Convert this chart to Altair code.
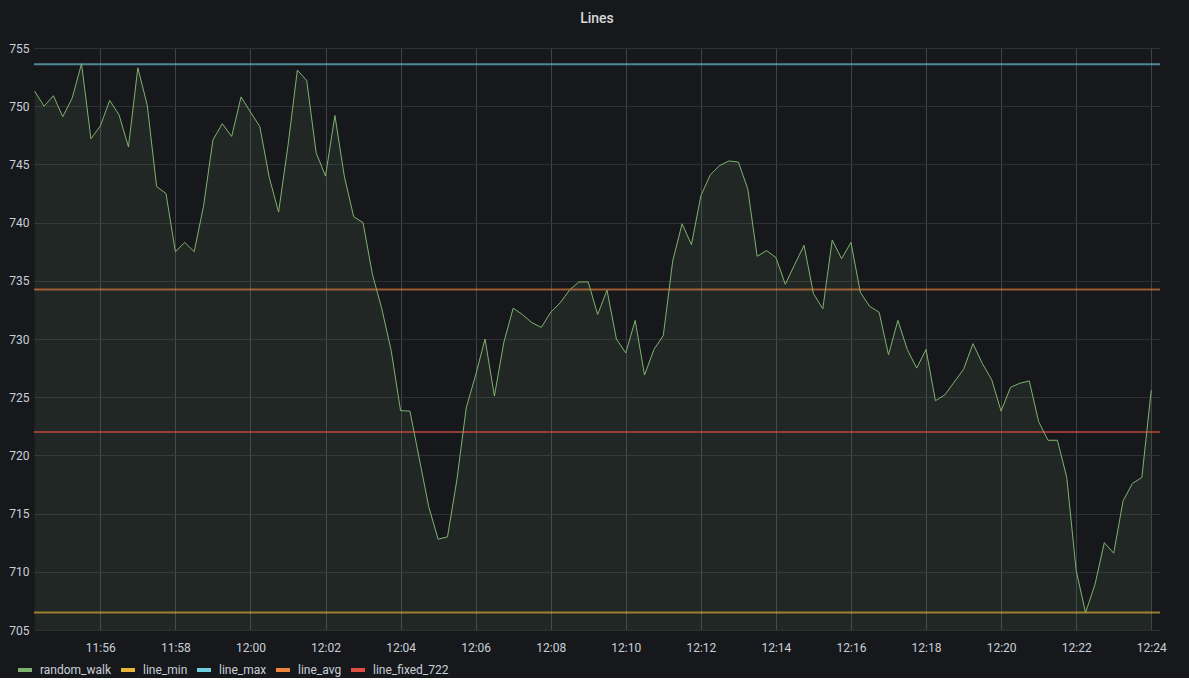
import altair as alt
import pandas as pd

# ---- data ----
start_time = "2024-01-01T11:54:15"   # first sample, 15 s step
step_seconds = 15
random_walk = [
    751.3, 750.0, 750.9, 749.1, 750.7, 753.65, 747.2, 748.3, 750.5, 749.25,
    746.5, 753.3, 750.1, 743.1, 742.5, 737.5, 738.3, 737.5, 741.4, 747.1,
    748.5, 747.4, 750.8, 749.5, 748.25, 743.9, 740.9, 746.6, 753.1, 752.2,
    746.0, 744.0, 749.2, 744.0, 740.5, 740.0, 735.55, 732.6, 729.0, 723.85,
    723.8, 719.7, 715.6, 712.8, 713.0, 717.9, 724.1, 726.9, 730.0, 725.1,
    729.7, 732.65, 732.1, 731.4, 731.0, 732.3, 733.1, 734.2, 734.9, 734.9,
    732.1, 734.2, 730.0, 728.8, 731.6, 726.9, 729.1, 730.3, 736.7, 739.9,
    738.1, 742.3, 744.1, 744.9, 745.3, 745.2, 742.9, 737.1, 737.6, 737.0,
    734.7, 736.4, 738.05, 733.9, 732.6, 738.5, 736.9, 738.3, 734.0, 732.8,
    732.3, 728.65, 731.6, 729.1, 727.5, 729.1, 724.7, 725.2, 726.3, 727.4,
    729.6, 727.9, 726.5, 723.8, 725.85, 726.2, 726.4, 722.9, 721.3, 721.3,
    718.1, 710.1, 706.5, 708.9, 712.5, 711.6, 716.1, 717.6, 718.1, 725.6,
]
const_names = ["line_min", "line_max", "line_avg", "line_fixed_722"]
const_values = [706.5, 753.6, 734.25, 722.0]
series_names = ["random_walk", "line_min", "line_max", "line_avg", "line_fixed_722"]
series_colors = ["#7EB26D", "#EAB839", "#6ED0E0", "#EF843C", "#E24D42"]
range_start = (11, 54, 14)
range_end = (12, 24, 14)
x_tick_labels = ["11:56", "11:58", "12:00", "12:02", "12:04", "12:06", "12:08", "12:10",
                 "12:12", "12:14", "12:16", "12:18", "12:20", "12:22", "12:24"]
y_ticks = [705, 710, 715, 720, 725, 730, 735, 740, 745, 750, 755]


def dt(h, m, s=0):
    return alt.DateTime(year=2024, month=1, date=1, hours=h, minutes=m, seconds=s)


def iso(h, m, s=0):
    return f"2024-01-01T{h:02d}:{m:02d}:{s:02d}"


# ---- tables ----
times = pd.date_range(start_time, periods=len(random_walk), freq=f"{step_seconds}s")
rw = pd.DataFrame({
    "time": times.strftime("%Y-%m-%dT%H:%M:%S"),
    "value": random_walk,
    "series": "random_walk",
})
const_rows = []
for n, v in zip(const_names, const_values):
    const_rows.append({"time": iso(*range_start), "value": v, "series": n})
    const_rows.append({"time": iso(*range_end), "value": v, "series": n})
consts = pd.DataFrame(const_rows)

tick_values = [dt(int(t[:2]), int(t[3:])) for t in x_tick_labels]

W, H = 1126, 582

x_scale = alt.Scale(domain=[dt(*range_start), dt(*range_end)])
y_scale = alt.Scale(domain=[705, 755], zero=False, nice=False)
color_scale = alt.Scale(domain=series_names, range=series_colors)

x_axis = alt.Axis(format="%H:%M", values=tick_values, title=None,
                  grid=True, gridColor="#3f4247", gridWidth=1, ticks=False, domain=False,
                  labelColor="#c7d0d9", labelFont="Roboto", labelFontSize=12, labelPadding=12)
y_axis = alt.Axis(values=y_ticks, title=None, grid=True, gridColor="#2e3034", gridWidth=1,
                  ticks=False, domain=False, labelColor="#c7d0d9", labelFont="Roboto",
                  labelFontSize=12, labelPadding=5)

area = alt.Chart(rw).mark_area(color="#7EB26D", opacity=0.1, clip=True).encode(
    x=alt.X("time:T", scale=x_scale, axis=x_axis),
    y=alt.Y("value:Q", scale=y_scale, axis=y_axis),
    y2=alt.datum(705),
)

const_lines = alt.Chart(consts).mark_line(strokeWidth=2, opacity=0.62, clip=True).encode(
    x=alt.X("time:T", scale=x_scale),
    y=alt.Y("value:Q", scale=y_scale),
    color=alt.Color("series:N", scale=color_scale, sort=series_names,
                    legend=alt.Legend(orient="none", direction="horizontal", legendX=-18, legendY=613,
                                      title=None, values=series_names,
                                      symbolType="stroke", symbolSize=196,
                                      symbolStrokeWidth=4, symbolOpacity=1,
                                      labelColor="#c7d0d9", labelFont="Roboto", labelFontSize=12,
                                      labelOffset=6, columnPadding=1)),
)

rw_line = alt.Chart(rw).mark_line(strokeWidth=1, clip=True).encode(
    x=alt.X("time:T", scale=x_scale),
    y=alt.Y("value:Q", scale=y_scale),
    color=alt.Color("series:N", scale=color_scale),
)

chart = alt.layer(area, const_lines, rw_line).properties(
    width=W, height=H,
    title=alt.TitleParams("Lines", color="#d8d9da", font="Roboto", fontSize=14, fontWeight=500,
                          anchor="middle", offset=16),
    background="#17181c",
    padding={"left": 8, "top": 12, "right": 22, "bottom": 0},
).configure_view(stroke=None, fill="#17181c")

chart.save("out.html", embed_options={"renderer": "svg", "actions": False})
